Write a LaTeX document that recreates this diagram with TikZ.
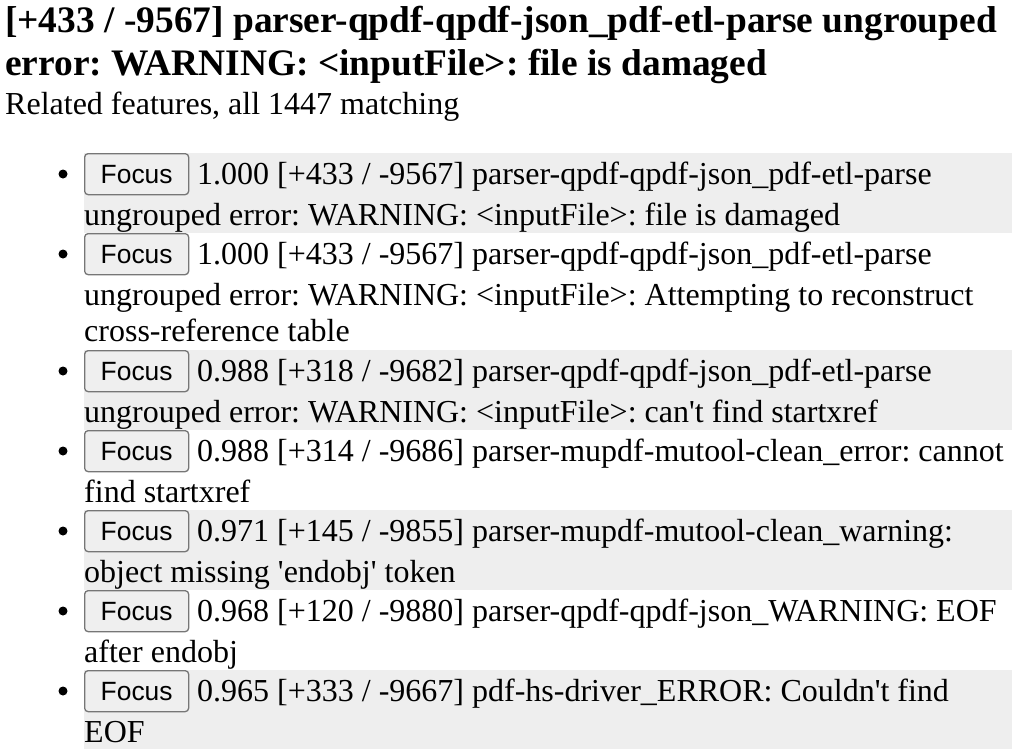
\documentclass[tikz,border=0pt]{standalone}
\usepackage{fontspec}
\setmainfont{Liberation Serif}
\newfontfamily\btnfont{Liberation Sans}
\definecolor{bandgray}{HTML}{EEEEEE}
\definecolor{btnfill}{HTML}{EFEFEF}
\definecolor{btnedge}{HTML}{767676}
\frenchspacing

\begin{document}
\begin{tikzpicture}[x=1pt,y=-1pt]
\tikzset{focus button/.style={draw=btnedge,fill=btnfill,line width=1.3pt,rounded corners=3.5pt,minimum width=104pt,minimum height=41pt,inner sep=0pt,anchor=north west,font=\btnfont\fontsize{26.4}{26.4}\selectfont}}
\tikzset{item line/.style={anchor=base west,inner sep=0pt,font=\fontsize{32}{37}\selectfont}}
\tikzset{head line/.style={anchor=base west,inner sep=0pt,font=\bfseries\fontsize{37.4}{43}\selectfont}}
\tikzset{list bullet/.style={circle,fill=black,inner sep=0pt,minimum size=9pt}}

\useasboundingbox (0,0) rectangle (1024,749);

\node[head line] (head1) at (5,33) {[+433 / -9567] parser-qpdf-qpdf-json\_pdf-etl-parse ungrouped};
\node[head line] (head2) at (5,76) {error: WARNING: <inputFile>: file is damaged};
\node[item line] (related) at (5,114) {Related features, all 1447 matching};

% shaded rows
\foreach \top/\bot in {153/233,350/430,510/590,670/749}
  \fill[bandgray] (84,\top) rectangle (1012,\bot);

% bullets and buttons
\foreach \top/\name in {153/a,233/b,350/c,430/d,510/e,590/f,670/g} {
  \node[list bullet] (bul-\name) at (63,\top+21) {};
  \node[focus button] (btn-\name) at (84,\top) {Focus};
}

\node[item line] (txt-a1) at (197,184) {1.000 [+433 / -9567] parser-qpdf-qpdf-json\_pdf-etl-parse};
\node[item line] (txt-a2) at (84,225) {ungrouped error: WARNING: <inputFile>: file is damaged};

\node[item line] (txt-b1) at (197,264) {1.000 [+433 / -9567] parser-qpdf-qpdf-json\_pdf-etl-parse};
\node[item line] (txt-b2) at (84,305) {ungrouped error: WARNING: <inputFile>: Attempting to reconstruct};
\node[item line] (txt-b3) at (84,341) {cross-reference table};

\node[item line] (txt-c1) at (197,381) {0.988 [+318 / -9682] parser-qpdf-qpdf-json\_pdf-etl-parse};
\node[item line] (txt-c2) at (84,422) {ungrouped error: WARNING: <inputFile>: can\textquotesingle t find startxref};

\node[item line] (txt-d1) at (197,461) {0.988 [+314 / -9686] parser-mupdf-mutool-clean\_error: cannot};
\node[item line] (txt-d2) at (84,502) {find startxref};

\node[item line] (txt-e1) at (197,541) {0.971 [+145 / -9855] parser-mupdf-mutool-clean\_warning:};
\node[item line] (txt-e2) at (84,582) {object missing \textquotesingle endobj\textquotesingle\ token};

\node[item line] (txt-f1) at (197,621) {0.968 [+120 / -9880] parser-qpdf-qpdf-json\_WARNING: EOF};
\node[item line] (txt-f2) at (84,662) {after endobj};

\node[item line] (txt-g1) at (197,701) {0.965 [+333 / -9667] pdf-hs-driver\_ERROR: Couldn\textquotesingle t find};
\node[item line] (txt-g2) at (84,742) {EOF};

\end{tikzpicture}
\end{document}
